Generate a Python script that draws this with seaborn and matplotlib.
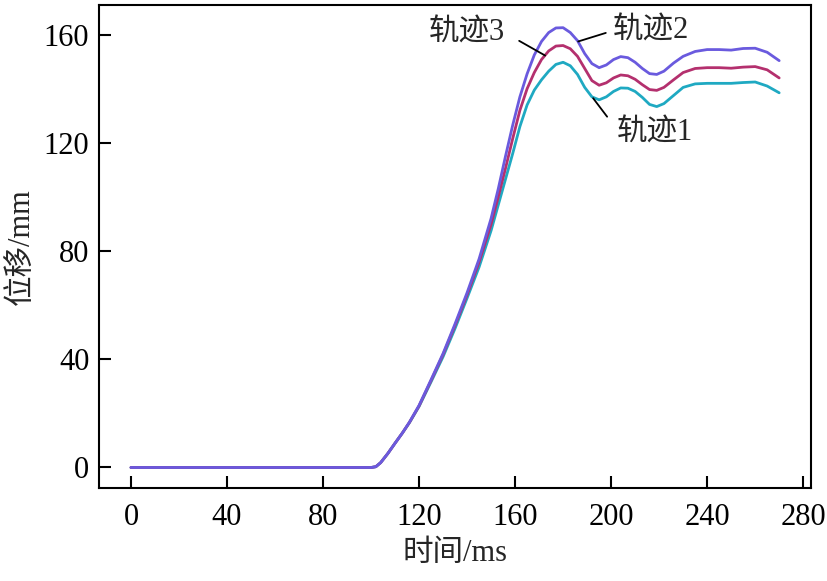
import numpy as np
import pandas as pd
import matplotlib
matplotlib.use("Agg")
import matplotlib.pyplot as plt
import seaborn as sns

# 时间轴 (ms)
time_ms = [0, 100, 102, 104, 107, 110, 113, 116, 120, 125, 130, 135, 140, 145, 150,
           153, 156, 159, 162, 165, 168, 171, 174, 177, 180, 183, 186, 189, 192, 195,
           198, 201, 204, 207, 210, 213, 216, 219, 222, 226, 230, 235, 240, 245, 250,
           255, 260, 265, 270]

# 三条轨迹的位移 (mm)
track1 = [-0.2, -0.2, 0.1, 1.6, 5, 8.8, 12.5, 16.4, 22.4, 31.5, 40.8, 51.3, 62.5, 74, 87.5,
          97, 106.5, 116, 126, 134, 139.5, 143.3, 146.5, 149, 149.8, 148.5, 145.3, 140.5,
          137, 135.9, 137, 139, 140.3, 140.2, 139, 136.8, 134.2, 133.4, 134.5, 137.5,
          140.5, 141.8, 142, 142, 142, 142.3, 142.5, 141, 138.5]
track2 = [-0.2, -0.2, 0.1, 1.6, 5, 8.8, 12.5, 16.6, 22.8, 32.3, 42, 53, 64.5, 77, 92,
          103, 115, 126.5, 137, 145.5, 152.5, 157.5, 160.8, 162.5, 162.6, 160.8, 157.8,
          153, 149.3, 147.8, 148.8, 150.8, 151.9, 151.5, 149.8, 147.5, 145.6, 145.3,
          146.5, 149.5, 152, 153.8, 154.5, 154.5, 154.3, 154.9, 155, 153.5, 150.4]
track3 = [-0.2, -0.2, 0.1, 1.6, 5, 8.8, 12.5, 16.5, 22.6, 32, 41.6, 52.4, 63.7, 75.8, 89.8,
          100, 110.5, 121.5, 132, 140, 146, 150.8, 154, 155.8, 156, 154.8, 152, 147.5,
          143, 141.3, 142.2, 144, 145.1, 144.8, 143.5, 141.5, 139.7, 139.4, 140.5, 143.3,
          146, 147.5, 147.8, 147.8, 147.6, 148, 148.2, 147, 144]

names = ["轨迹1", "轨迹3", "轨迹2"]
colors = {"轨迹1": "#1fa9c2", "轨迹3": "#b4306e", "轨迹2": "#6a5ade"}

df = pd.concat([
    pd.DataFrame({"t": time_ms, "s": track1, "name": "轨迹1"}),
    pd.DataFrame({"t": time_ms, "s": track3, "name": "轨迹3"}),
    pd.DataFrame({"t": time_ms, "s": track2, "name": "轨迹2"}),
])

sns.set_theme(style="ticks")
plt.rcParams['font.family'] = ['Liberation Serif', 'Noto Sans CJK SC']
plt.rcParams['axes.unicode_minus'] = False

fig = plt.figure(figsize=(8.28, 5.81), dpi=100)
ax = fig.add_axes([0.1196, 0.16, 0.86, 0.8314])

sns.lineplot(data=df, x="t", y="s", hue="name", hue_order=names,
             palette=colors, linewidth=2.0, legend=False, ax=ax,
             solid_joinstyle='round', solid_capstyle='round')

ax.set_xlim(-13.3, 283.3)
ax.set_ylim(-7.8, 171)
ax.set_xticks(range(0, 281, 40))
ax.set_yticks(range(0, 161, 40))
ax.tick_params(axis='x', direction='in', length=8.5, width=1.5, labelsize=22, pad=11,
               top=False, colors='black')
ax.tick_params(axis='y', direction='in', length=8.5, width=1.5, labelsize=22, pad=7,
               right=False, colors='black')
for sp in ax.spines.values():
    sp.set_visible(True)
    sp.set_linewidth(1.5)
    sp.set_color('black')

ax.set_xlabel("时间/ms", fontsize=22, labelpad=5)
ax.set_ylabel("位移/mm", fontsize=22, labelpad=6)

# 标注
lp = dict(arrowstyle='-', color='black', lw=1.3)
ax.annotate("轨迹3", xy=(172.5, 152.3), xytext=(155.8, 160.7), ha='right', va='center',
            fontsize=22, arrowprops=dict(relpos=(1, 0.5), shrinkA=9, shrinkB=0, **lp))
ax.annotate("轨迹2", xy=(186.3, 157.5), xytext=(200.8, 161.5), ha='left', va='center',
            fontsize=22, arrowprops=dict(relpos=(0, 0.5), shrinkA=3, shrinkB=0, **lp))
ax.annotate("轨迹1", xy=(192.5, 136.5), xytext=(202.5, 123.7), ha='left', va='center',
            fontsize=22, arrowprops=dict(relpos=(0, 0.6), shrinkA=8, shrinkB=0, **lp))

fig.savefig("out.png", dpi=100)
